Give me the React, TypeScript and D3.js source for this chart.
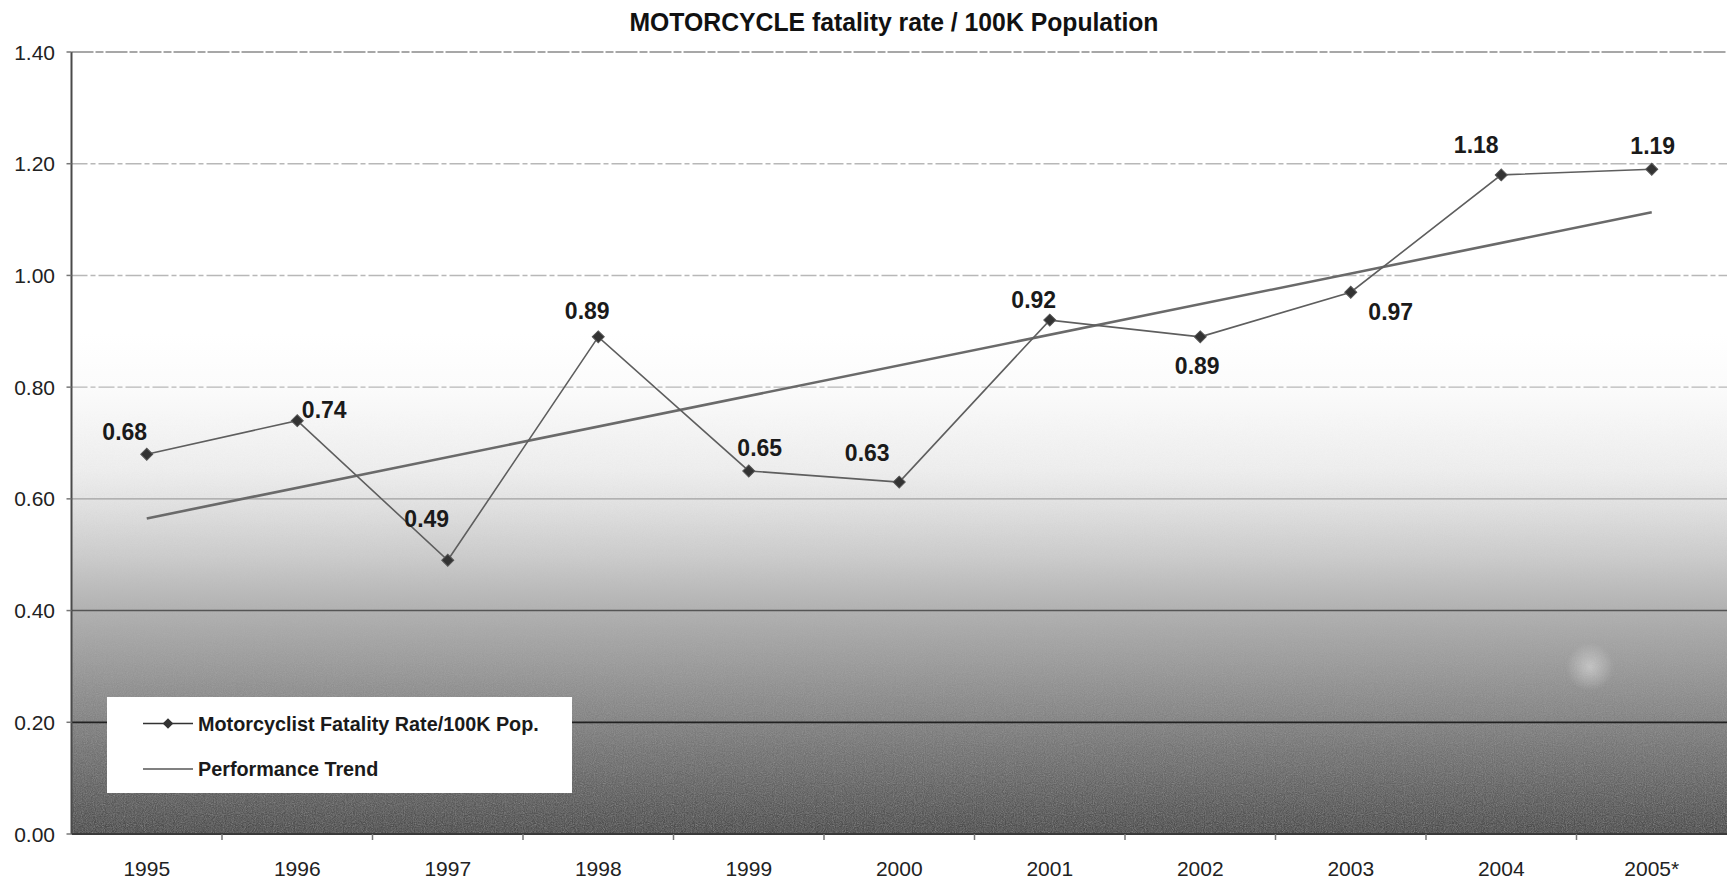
import React from 'react';
import * as d3 from 'd3';

const years = ['1995', '1996', '1997', '1998', '1999', '2000', '2001', '2002', '2003', '2004', '2005*'];
const fatalityRates = [0.68, 0.74, 0.49, 0.89, 0.65, 0.63, 0.92, 0.89, 0.97, 1.18, 1.19];
const trendEnds = [0.565, 1.113];
const yTicks = [0, 0.2, 0.4, 0.6, 0.8, 1.0, 1.2, 1.4];
const labelOffsets: [number, number][] = [
  [-22, -22], [27, -11], [-21, -42], [-11, -26], [11, -23], [-32, -29],
  [-16, -20], [-3, 29], [40, 20], [-25, -30], [1, -24],
];
const seriesNames = ['Motorcyclist Fatality Rate/100K Pop.', 'Performance Trend'];
const title = 'MOTORCYCLE fatality rate / 100K Population';

const W = 1727;
const H = 885;
const FONT = '"Liberation Sans", Arial, Helvetica, sans-serif';

function gridStyle(v: number) {
  if (v >= 1.39) return { stroke: '#8a8a8a', width: 1.6, dash: '22 2 8 2' };
  if (v >= 0.79) return { stroke: '#b8b8b8', width: 1.4, dash: '16 3 5 3' };
  if (v >= 0.59) return { stroke: '#a0a0a0', width: 1.4, dash: undefined };
  if (v >= 0.39) return { stroke: '#555', width: 1.5, dash: undefined };
  if (v >= 0.19) return { stroke: '#222', width: 1.7, dash: undefined };
  return null;
}

export default function App() {
  const x = d3.scaleBand<string>().domain(years).range([71.5, W]).padding(0);
  const y = d3.scaleLinear().domain([0, 1.4]).range([834, 52]);
  const cx = (i: number) => (x(years[i]) as number) + x.bandwidth() / 2;

  const line = d3
    .line<number>()
    .x((_, i) => cx(i))
    .y((d) => y(d));

  const trendPath = d3
    .line<number>()
    .x((_, i) => (i === 0 ? cx(0) : cx(years.length - 1)))
    .y((d) => y(d))(trendEnds);

  const diamond = d3.symbol().type(d3.symbolSquare).size(72)();
  const diamondSmall = d3.symbol().type(d3.symbolSquare).size(56)();

  const [x0, x1] = x.range();
  const yTop = y(1.4);
  const yBot = y(0);

  return (
    <svg
      width={W}
      height={H}
      style={{ position: 'absolute', left: 0, top: 0, background: '#fff' }}
      fontFamily={FONT}
    >
      <defs>
        <linearGradient id="bg" x1="0" y1={yTop} x2="0" y2={yBot} gradientUnits="userSpaceOnUse">
          <stop offset="0" stopColor="#ffffff" />
          <stop offset="0.36" stopColor="#ffffff" />
          <stop offset="0.428" stopColor="#fbfbfb" />
          <stop offset="0.536" stopColor="#eeeeee" />
          <stop offset="0.572" stopColor="#e4e4e4" />
          <stop offset="0.643" stopColor="#cdcdcd" />
          <stop offset="0.715" stopColor="#b0b0b0" />
          <stop offset="0.785" stopColor="#999999" />
          <stop offset="0.857" stopColor="#808080" />
          <stop offset="0.928" stopColor="#666666" />
          <stop offset="1" stopColor="#4a4a4a" />
        </linearGradient>
        <radialGradient id="glare">
          <stop offset="0" stopColor="#ffffff" stopOpacity="0.4" />
          <stop offset="1" stopColor="#ffffff" stopOpacity="0" />
        </radialGradient>
        <filter id="grain" x="0" y="0" width="100%" height="100%">
          <feTurbulence type="fractalNoise" baseFrequency="0.9" numOctaves="2" seed="3" result="n" />
          <feColorMatrix
            type="matrix"
            values="0 0 0 0 0.5  0 0 0 0 0.5  0 0 0 0 0.5  0.9 0.9 0.9 0 -1.0"
          />
        </filter>
        <linearGradient id="grainMask" x1="0" y1={yTop} x2="0" y2={yBot} gradientUnits="userSpaceOnUse">
          <stop offset="0.45" stopColor="#000" />
          <stop offset="1" stopColor="#fff" />
        </linearGradient>
        <mask id="gm">
          <rect x={x0} y={yTop} width={x1 - x0} height={yBot - yTop} fill="url(#grainMask)" />
        </mask>
      </defs>

      {/* Title */}
      <text
        x={894}
        y={31}
        textAnchor="middle"
        fontSize={26}
        fontWeight="bold"
        fill="#111"
        textLength={529}
        lengthAdjust="spacingAndGlyphs"
      >
        {title}
      </text>

      {/* Plot background */}
      <rect x={x0} y={yTop} width={x1 - x0} height={yBot - yTop} fill="url(#bg)" />
      <g mask="url(#gm)" opacity={0.45}>
        <rect x={x0} y={yTop} width={x1 - x0} height={yBot - yTop} filter="url(#grain)" />
      </g>
      <circle cx={1590} cy={667} r={24} fill="url(#glare)" />

      {/* Gridlines */}
      {yTicks.map((v) => {
        const s = gridStyle(v);
        if (!s) return null;
        return (
          <line
            key={v}
            x1={x0}
            x2={x1}
            y1={y(v)}
            y2={y(v)}
            stroke={s.stroke}
            strokeWidth={s.width}
            strokeDasharray={s.dash}
          />
        );
      })}

      {/* Axes */}
      <line x1={x0} x2={x0} y1={yTop} y2={yBot} stroke="#4a4a4a" strokeWidth={2} />
      <line x1={x0} x2={x1} y1={yBot} y2={yBot} stroke="#3a3a3a" strokeWidth={2} />
      {yTicks.map((v) => (
        <g key={'yt' + v}>
          <line x1={x0 - 5} x2={x0} y1={y(v)} y2={y(v)} stroke="#777" strokeWidth={1.5} />
          <text x={55} y={y(v)} dy="0.36em" textAnchor="end" fontSize={21} fill="#222">
            {v.toFixed(2)}
          </text>
        </g>
      ))}
      {years.map((yr, i) => (
        <g key={yr}>
          {i > 0 && (
            <line
              x1={x(yr) as number}
              x2={x(yr) as number}
              y1={yBot}
              y2={yBot + 6}
              stroke="#777"
              strokeWidth={1.5}
            />
          )}
          <text x={cx(i)} y={876} textAnchor="middle" fontSize={21} fill="#222">
            {yr}
          </text>
        </g>
      ))}

      {/* Trend line */}
      <path d={trendPath || ''} fill="none" stroke="#6a6a6a" strokeWidth={2.6} />

      {/* Data line */}
      <path d={line(fatalityRates) || ''} fill="none" stroke="#5e5e5e" strokeWidth={1.6} />
      {fatalityRates.map((v, i) => (
        <path
          key={'m' + i}
          d={diamond || ''}
          transform={`translate(${cx(i)},${y(v)}) rotate(45)`}
          fill="#333"
          stroke="#555"
          strokeWidth={1}
        />
      ))}

      {/* Data labels */}
      {fatalityRates.map((v, i) => (
        <text
          key={'l' + i}
          x={cx(i) + labelOffsets[i][0]}
          y={y(v) + labelOffsets[i][1]}
          dy="0.36em"
          textAnchor="middle"
          fontSize={23}
          fontWeight="bold"
          fill="#1a1a1a"
        >
          {v.toFixed(2)}
        </text>
      ))}

      {/* Legend */}
      <g>
        <rect x={107} y={697} width={465} height={96} fill="#fff" />
        <line x1={143} x2={193} y1={723.5} y2={723.5} stroke="#333" strokeWidth={1.6} />
        <path d={diamondSmall || ''} transform="translate(168,723.5) rotate(45)" fill="#333" />
        <text x={198} y={723.5} dy="0.36em" fontSize={19.8} fontWeight="bold" fill="#1a1a1a">
          {seriesNames[0]}
        </text>
        <line x1={143} x2={193} y1={769} y2={769} stroke="#808080" strokeWidth={2} />
        <text x={198} y={769} dy="0.36em" fontSize={19.8} fontWeight="bold" fill="#1a1a1a">
          {seriesNames[1]}
        </text>
      </g>
    </svg>
  );
}
